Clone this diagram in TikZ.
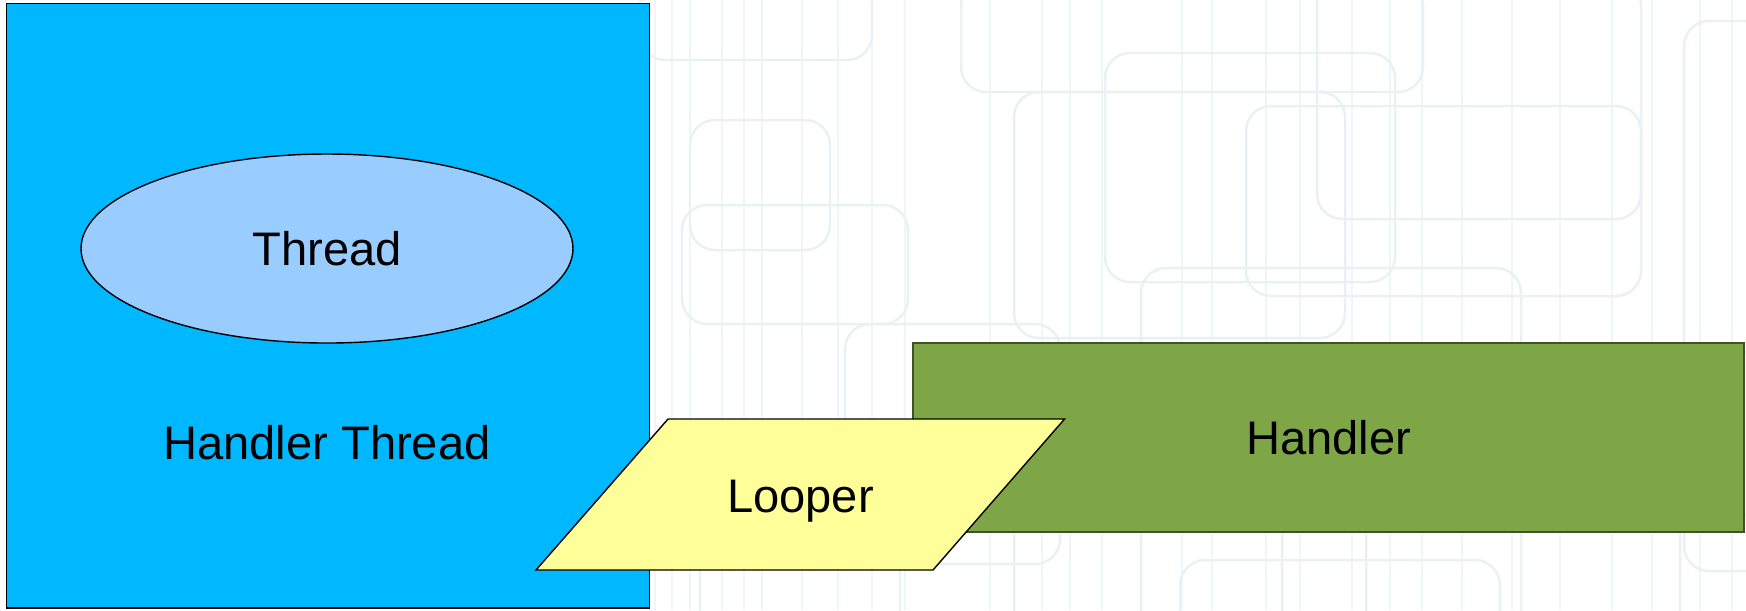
\documentclass[tikz,border=0pt]{standalone}
\usepackage{fontspec}
\setmainfont{Liberation Sans}
\usetikzlibrary{shapes.geometric}
\definecolor{SkyBlue}{HTML}{00B8FF}
\definecolor{PaleBlue}{HTML}{99CCFF}
\definecolor{LeafGreen}{HTML}{7EA647}
\definecolor{LeafDark}{HTML}{3F5424}
\definecolor{Lemon}{HTML}{FFFF99}
\definecolor{GridLine}{HTML}{E9F1F5}
\definecolor{GridFaint}{HTML}{F0F5F8}
\tikzset{
  shapelab/.style={font=\fontsize{13.4}{16}\selectfont, text=black},
  hthreadbox/.style={draw=black, line width=0.4pt, fill=SkyBlue, minimum width=64.25mm, minimum height=60.47mm, inner sep=0pt},
  threadoval/.style={ellipse, draw=black, line width=0.4pt, fill=PaleBlue, minimum width=49.2mm, minimum height=18.9mm, inner sep=0pt, shapelab},
  handlerbox/.style={draw=LeafDark, line width=0.5pt, fill=LeafGreen, minimum width=83.1mm, minimum height=18.9mm, inner sep=0pt, shapelab},
  looperbox/.style={draw=black, line width=0.4pt, fill=Lemon},
  bgline/.style={draw=GridLine, line width=0.7pt, rounded corners=2.5mm},
  bgfaint/.style={draw=GridFaint, line width=0.5pt},
}

\begin{document}
\begin{tikzpicture}[x=0.1mm, y=-0.1mm]
    % background and wallpaper
    \useasboundingbox (0,0) rectangle (1746,610);
    \fill[white] (0,0) rectangle (1746,610);
    \begin{scope}
      \clip (0,0) rectangle (1746,610);
      \foreach \gx in {655,672,690,722,744,762,802,838,872,905,990,1042,1070,1102,1182,1212,1266,1300,1352,1390,1422,1462,1512,1560,1612,1652,1700,1732}
        \draw[bgfaint] (\gx,0) -- (\gx,610);
      \foreach \xa/\ya/\xb/\yb in {640/-20/872/60, 682/205/908/324, 845/324/1060/564, 961/-20/1423/92, 1014/92/1345/338, 1105/53/1395/282, 1246/106/1641/296, 1317/-20/1641/219, 1141/268/1521/700, 1684/21/1770/571, 1014/487/1366/700, 1282/410/1680/700, 1487/352/1770/515, 700/470/900/700, 1180/560/1500/700, 690/120/830/250}
        \draw[bgline] (\xa,\ya) rectangle (\xb,\yb);
    \end{scope}

    % shapes
    \node[hthreadbox] (hthread) at (328,305.6) {};
    \node[threadoval] (thread) at (327,248.5) {Thread};
    \node[shapelab, anchor=base] (hthreadlab) at (327,459) {Handler Thread};
    \node[handlerbox] (handler) at (1328.5,437.5) {Handler};

    \coordinate (looptl) at (668,419);
    \coordinate (looptr) at (1064.5,419);
    \coordinate (loopbr) at (933,570);
    \coordinate (loopbl) at (536,570);
    \draw[looperbox] (looptl) -- (looptr) -- (loopbr) -- (loopbl) -- cycle;
    \node[shapelab, anchor=base] (looper) at (800.5,512.5) {Looper};
  \end{tikzpicture}
\end{document}
